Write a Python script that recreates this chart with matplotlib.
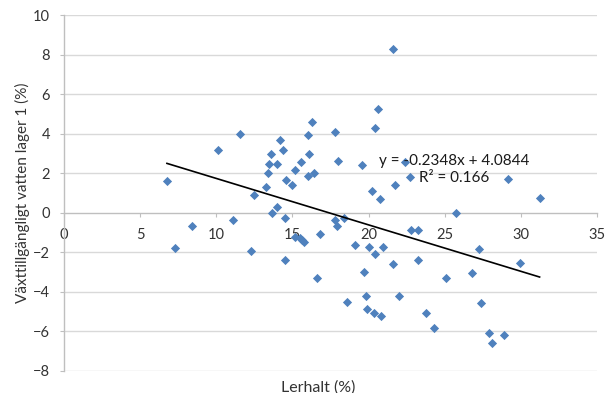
import matplotlib.pyplot as plt

# Lerhalt (%) och växttillgängligt vatten, lager 1 (%)
lerhalt = [6.76, 7.28, 8.40, 10.09, 11.10, 11.58, 12.28, 12.50, 13.29, 13.40,
           13.49, 13.57, 13.68, 14.00, 14.00, 14.20, 14.39, 14.50, 14.50, 14.59,
           15.00, 15.15, 15.20, 15.53, 15.57, 15.63, 15.79, 16.00, 16.00, 16.07,
           16.30, 16.40, 16.60, 16.80, 17.80, 17.80, 17.90, 17.98, 18.40, 18.60,
           19.08, 19.60, 19.72, 19.82, 19.90, 20.00, 20.22, 20.33, 20.40, 20.42,
           20.61, 20.72, 20.80, 20.97, 21.58, 21.62, 21.73, 22.00, 22.41, 22.72,
           22.80, 23.22, 23.24, 23.75, 24.30, 25.10, 25.72, 26.82, 27.24, 27.41,
           27.90, 28.13, 28.90, 29.14, 29.93, 31.23]
vatten = [1.63, -1.79, -0.69, 3.16, -0.34, 4.00, -1.92, 0.91, 1.29, 2.02,
          2.45, 2.99, 0.00, 2.45, 0.27, 3.69, 3.15, -0.25, -2.37, 1.65,
          1.39, 2.14, -1.23, -1.26, 2.56, -1.40, -1.46, 3.92, 1.85, 2.99,
          4.58, 2.03, -3.30, -1.08, 4.09, -0.34, -0.67, 2.60, -0.26, -4.51,
          -1.62, 2.42, -3.00, -4.21, -4.87, -1.75, 1.08, -5.05, -2.06, 4.29,
          5.23, 0.72, -5.22, -1.72, -2.60, 8.26, 1.38, -4.23, 2.55, 1.82,
          -0.89, -0.89, -2.41, -5.07, -5.84, -3.28, 0.00, -3.05, -1.85, -4.58,
          -6.10, -6.60, -6.18, 1.72, -2.55, 0.74]

# linjär trendlinje
k = -0.2348
m = 4.0844
r2 = 0.166

xticks = [0, 5, 10, 15, 20, 25, 30, 35]
yticks = [-8, -6, -4, -2, 0, 2, 4, 6, 8, 10]

plt.rcParams['font.family'] = ['Lato', 'DejaVu Sans']

fig = plt.figure(figsize=(6.08, 3.93), dpi=100)
ax = fig.add_axes([64/608, 22/393, 533/608, 356/393])

for yv in yticks:
    if yv != 0:
        ax.axhline(yv, color='#D9D9D9', lw=1.0, zorder=0)

ax.scatter(lerhalt, vatten, marker='D', s=22, color='#4F81BD', zorder=3, linewidths=0)

x0, x1 = min(lerhalt), max(lerhalt)
ax.plot([x0, x1], [k*x0 + m, k*x1 + m], color='black', lw=1.2, zorder=4)

ax.text(25.6, 2.62, 'y = %.4fx + %.4f' % (k, m), ha='center', va='center',
        fontsize=11, color='#1a1a1a', zorder=5)
ax.text(25.6, 1.78, 'R² = %.3f' % r2, ha='center', va='center',
        fontsize=11, color='#1a1a1a', zorder=5)

ax.set_xlim(0, 35)
ax.set_ylim(-8, 10)
ax.set_xticks(xticks)
ax.set_yticks(yticks)

for s in ['top', 'right']:
    ax.spines[s].set_visible(False)
ax.spines['bottom'].set_position(('data', 0))
ax.spines['bottom'].set_color('#BFBFBF')
ax.spines['left'].set_color('#BFBFBF')
ax.spines['bottom'].set_linewidth(1.0)
ax.spines['left'].set_linewidth(1.0)

ax.tick_params(axis='x', direction='out', length=3, color='#BFBFBF', pad=8,
               labelsize=10.5, labelcolor='#333333')
ax.tick_params(axis='y', direction='out', length=3, color='#BFBFBF', pad=7,
               labelsize=10.5, labelcolor='#333333')

ax.set_xlabel('Lerhalt (%)', fontsize=11.5, color='#333333')
ax.xaxis.set_label_coords(0.476, -0.025)
ax.xaxis.label.set_va('top')
ax.set_ylabel('Växttillgängligt vatten lager 1 (%)', fontsize=11, color='#333333')
ax.yaxis.set_label_coords(-0.064, 0.5)

fig.savefig('out.png', dpi=100)
